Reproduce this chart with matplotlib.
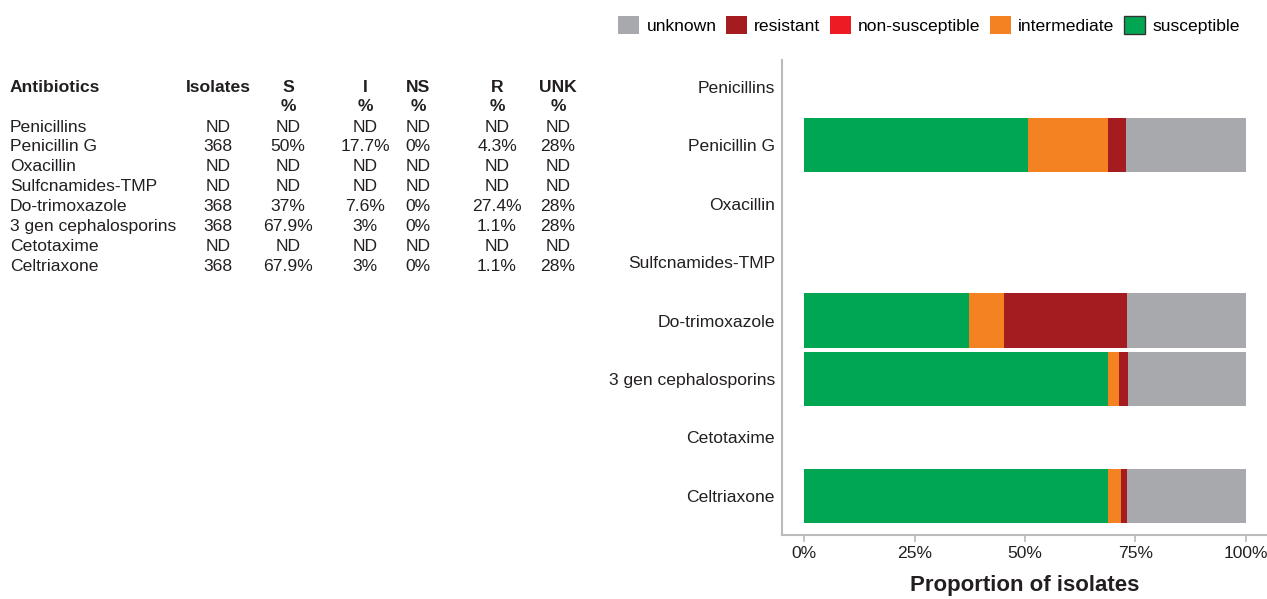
import matplotlib.pyplot as plt
from matplotlib.patches import Patch
import numpy as np

plt.rcParams['font.family'] = ['Liberation Sans', 'DejaVu Sans']

# Data
antibiotics = ['Penicillins', 'Penicillin G', 'Oxacillin', 'Sulfcnamides-TMP',
               'Do-trimoxazole', '3 gen cephalosporins', 'Cetotaxime', 'Celtriaxone']

# table values (as printed)
isolates = ['ND', '368', 'ND', 'ND', '368', '368', 'ND', '368']
s_pct = [np.nan, 50, np.nan, np.nan, 37, 67.9, np.nan, 67.9]
i_pct = [np.nan, 17.7, np.nan, np.nan, 7.6, 3, np.nan, 3]
ns_pct = [np.nan, 0, np.nan, np.nan, 0, 0, np.nan, 0]
r_pct = [np.nan, 4.3, np.nan, np.nan, 27.4, 1.1, np.nan, 1.1]
unk_pct = [np.nan, 28, np.nan, np.nan, 28, 28, np.nan, 28]

# bar segment proportions (as drawn)
bar_s = [0, 50.7, 0, 0, 37.3, 68.9, 0, 68.9]
bar_i = [0, 18.2, 0, 0, 7.9, 2.5, 0, 2.9]
bar_ns = [0, 0, 0, 0, 0, 0, 0, 0]
bar_r = [0, 4.0, 0, 0, 28.0, 2.0, 0, 1.4]
bar_unk = [0, 27.1, 0, 0, 26.8, 26.6, 0, 26.8]

COLORS = {
    'susceptible': '#00A651',
    'intermediate': '#F58220',
    'non-susceptible': '#ED1C24',
    'resistant': '#A51C20',
    'unknown': '#A7A9AC',
}
TXT = '#231F20'
FS = 12.6

W, H = 1267, 599
fig = plt.figure(figsize=(W / 100, H / 100), dpi=100)


def px(x, y):
    return x / W, 1 - y / H


# Chart
ax = fig.add_axes([782 / W, 1 - 535 / H, (1267 - 782) / W, (535 - 60) / H])
y = np.arange(len(antibiotics))
left = np.zeros(len(antibiotics))
series = [('susceptible', bar_s), ('intermediate', bar_i),
          ('non-susceptible', bar_ns), ('resistant', bar_r), ('unknown', bar_unk)]
for name, vals in series:
    v = np.array(vals, dtype=float) / 100
    ax.barh(y, v, left=left, height=0.93, color=COLORS[name], linewidth=0)
    left += v

ax.set_xlim(-0.05, 1.048)
ax.set_ylim(7.67, -0.46)
ax.set_yticks(y)
ax.set_yticklabels(antibiotics, fontsize=FS, color=TXT)
ax.tick_params(axis='y', length=0, pad=5)
ax.set_xticks([0, 0.25, 0.5, 0.75, 1.0])
ax.set_xticklabels(['0%', '25%', '50%', '75%', '100%'], fontsize=FS, color=TXT)
ax.tick_params(axis='x', length=5, color='#BBBBBB', width=1.2, pad=3)
for side in ['top', 'right']:
    ax.spines[side].set_visible(False)
for side in ['left', 'bottom']:
    ax.spines[side].set_color('#BBBBBB')
    ax.spines[side].set_linewidth(1.5)
ax.set_xlabel('Proportion of isolates', fontsize=16, fontweight='bold',
              color=TXT, labelpad=10)

# Legend
legend_order = ['unknown', 'resistant', 'non-susceptible', 'intermediate', 'susceptible']
handles = [Patch(facecolor=COLORS[n],
                 edgecolor='#333333' if n == 'susceptible' else COLORS[n],
                 linewidth=1 if n == 'susceptible' else 0, label=n) for n in legend_order]
fig.legend(handles=handles, loc='center', bbox_to_anchor=px(929, 25), ncol=5,
           frameon=False, fontsize=FS, handlelength=1.2, handleheight=1.2,
           handletextpad=0.4, columnspacing=0.55, borderaxespad=0)

# Table
header_y = 88
fig.text(*px(10, header_y), 'Antibiotics', fontsize=FS, fontweight='bold',
         ha='left', va='center', color=TXT)
cols = [('Isolates', 218, isolates), ('S', 288, s_pct), ('I', 365, i_pct),
        ('NS', 418, ns_pct), ('R', 497, r_pct), ('UNK', 558, unk_pct)]


def fmt(v):
    if isinstance(v, str):
        return v
    if np.isnan(v):
        return 'ND'
    return f'{v:g}%'


for title, cx, vals in cols:
    fig.text(*px(cx, header_y), title, fontsize=FS, fontweight='bold',
             ha='center', va='center', color=TXT)
    if title != 'Isolates':
        fig.text(*px(cx, 107), '%', fontsize=FS, fontweight='bold',
                 ha='center', va='center', color=TXT)
    for k, v in enumerate(vals):
        fig.text(*px(cx, 127 + k * 19.9), fmt(v), fontsize=FS,
                 ha='center', va='center', color=TXT)

for k, name in enumerate(antibiotics):
    fig.text(*px(10, 127 + k * 19.9), name, fontsize=FS,
             ha='left', va='center', color=TXT)

plt.savefig('out.png', dpi=100, facecolor='white')
plt.close()
